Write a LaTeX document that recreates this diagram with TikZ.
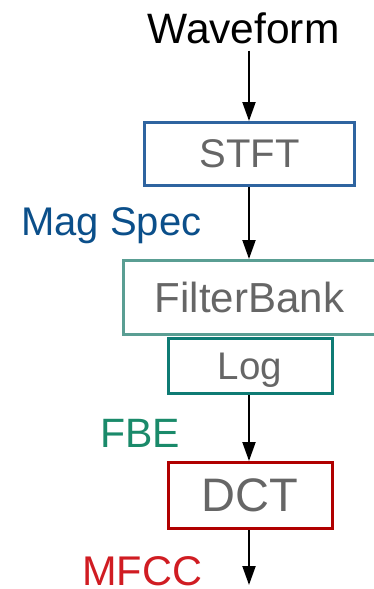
\documentclass[tikz,border=0pt]{standalone}
\usepackage{fontspec}
\setmainfont{Liberation Sans}
\usepackage{xcolor}
\usetikzlibrary{positioning,arrows.meta}

\definecolor{stftblue}{HTML}{2F64A0}
\definecolor{fbteal}{HTML}{5A9E93}
\definecolor{logteal}{HTML}{0E7B74}
\definecolor{dctred}{HTML}{B00000}
\definecolor{specblue}{HTML}{0B4F8A}
\definecolor{fbegreen}{HTML}{1A8A6A}
\definecolor{mfccred}{HTML}{D01C22}
\definecolor{boxtext}{HTML}{666666}

\begin{document}
\begin{tikzpicture}[x=1pt, y=-1pt]
    \tikzstyle{block} = [rectangle, draw, line width=3pt, text=boxtext, text depth=0pt, inner sep=0pt, align=center]
    \tikzstyle{feat} = [anchor=base west, inner sep=0pt, font=\fontsize{40}{48}\selectfont]
    \tikzstyle{flow} = [-{Triangle[width=13pt,length=19pt]}, line width=2pt]

    \useasboundingbox (0,0) rectangle (374,589);

    % Input
    \node [anchor=base, inner sep=0pt, font=\fontsize{42.5}{50}\selectfont] (wave) at (243.5,43) {Waveform};

    % Processing blocks
    \node [block, draw=stftblue, minimum width=210pt, minimum height=63pt, font=\fontsize{40}{48}\selectfont] (stft) at (249.5,154) {STFT};
    \node [block, draw=fbteal, minimum width=253pt, minimum height=74pt, font=\fontsize{42}{50}\selectfont, below=72pt of stft.south, anchor=north] (fbank) {FilterBank};
    \node [block, draw=logteal, minimum width=164pt, minimum height=55pt, font=\fontsize{38.5}{46}\selectfont, below=1pt of fbank.south, anchor=north, xshift=0.5pt] (log) {Log};
    \node [block, draw=dctred, minimum width=164pt, minimum height=66pt, font=\fontsize{47}{56}\selectfont, below=66pt of log.south, anchor=north] (dct) {DCT};
    \coordinate (out) at (249,585);

    % Feature labels
    \node [feat, text=specblue] (magspec) at (21,235) {Mag Spec};
    \node [feat, text=fbegreen, font=\fontsize{41}{49}\selectfont] (fbe) at (100,447) {FBE};
    \node [feat, text=mfccred, font=\fontsize{41.5}{50}\selectfont] (mfcc) at (82,585) {MFCC};

    % Connections
    \draw [flow, shorten <=7pt] (out |- wave.south) -- (out |- stft.north);
    \draw [flow] (out |- stft.south) -- (out |- fbank.north);
    \draw [flow] (out |- log.south) -- (out |- dct.north);
    \draw [flow] (out |- dct.south) -- (out);
\end{tikzpicture}
\end{document}
